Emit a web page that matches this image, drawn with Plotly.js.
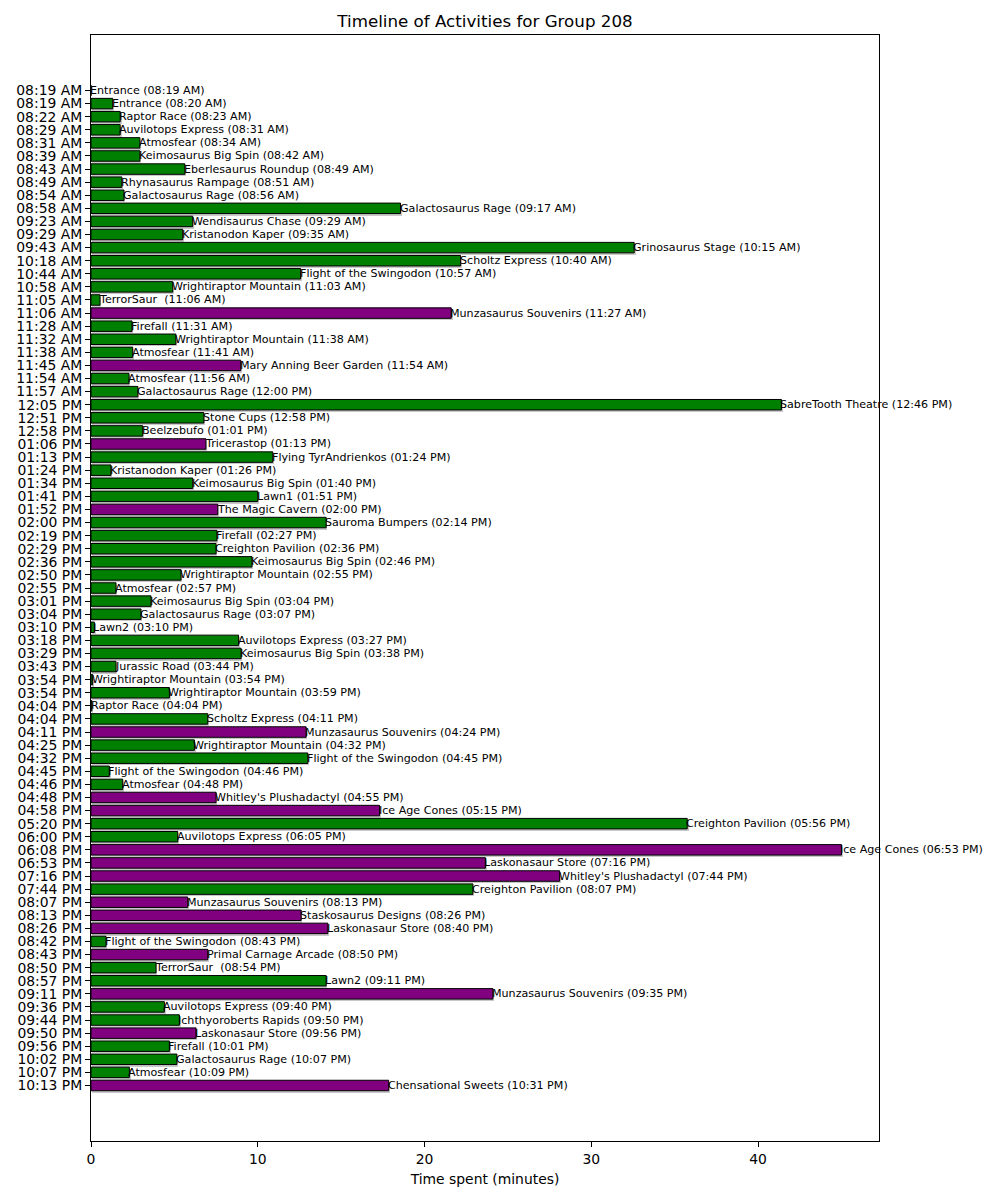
<!DOCTYPE html>
<html>
<head>
<meta charset="utf-8">
<script src="https://cdn.plot.ly/plotly-3.0.1.min.js"></script>
<style>html,body{margin:0;padding:0;background:#fff}#chart{width:1000px;height:1200px}</style>
</head>
<body>
<div id="chart"></div>
<script>
const startTimes = ["08:19 AM","08:19 AM","08:22 AM","08:29 AM","08:31 AM","08:39 AM","08:43 AM","08:49 AM","08:54 AM","08:58 AM",
"09:23 AM","09:29 AM","09:43 AM","10:18 AM","10:44 AM","10:58 AM","11:05 AM","11:06 AM","11:28 AM","11:32 AM",
"11:38 AM","11:45 AM","11:54 AM","11:57 AM","12:05 PM","12:51 PM","12:58 PM","01:06 PM","01:13 PM","01:24 PM",
"01:34 PM","01:41 PM","01:52 PM","02:00 PM","02:19 PM","02:29 PM","02:36 PM","02:50 PM","02:55 PM","03:01 PM",
"03:04 PM","03:10 PM","03:18 PM","03:29 PM","03:43 PM","03:54 PM","03:54 PM","04:04 PM","04:04 PM","04:11 PM",
"04:25 PM","04:32 PM","04:45 PM","04:46 PM","04:48 PM","04:58 PM","05:20 PM","06:00 PM","06:08 PM","06:53 PM",
"07:16 PM","07:44 PM","08:07 PM","08:13 PM","08:26 PM","08:42 PM","08:43 PM","08:50 PM","08:57 PM","09:11 PM",
"09:36 PM","09:44 PM","09:50 PM","09:56 PM","10:02 PM","10:07 PM","10:13 PM"];

const activities = ["Entrance","Entrance","Raptor Race","Auvilotops Express","Atmosfear","Keimosaurus Big Spin","Eberlesaurus Roundup","Rhynasaurus Rampage","Galactosaurus Rage","Galactosaurus Rage",
"Wendisaurus Chase","Kristanodon Kaper","Grinosaurus Stage","Scholtz Express","Flight of the Swingodon","Wrightiraptor Mountain","TerrorSaur ","Munzasaurus Souvenirs","Firefall","Wrightiraptor Mountain",
"Atmosfear","Mary Anning Beer Garden","Atmosfear","Galactosaurus Rage","SabreTooth Theatre","Stone Cups","Beelzebufo","Tricerastop","Flying TyrAndrienkos","Kristanodon Kaper",
"Keimosaurus Big Spin","Lawn1","The Magic Cavern","Sauroma Bumpers","Firefall","Creighton Pavilion","Keimosaurus Big Spin","Wrightiraptor Mountain","Atmosfear","Keimosaurus Big Spin",
"Galactosaurus Rage","Lawn2","Auvilotops Express","Keimosaurus Big Spin","Jurassic Road","Wrightiraptor Mountain","Wrightiraptor Mountain","Raptor Race","Scholtz Express","Munzasaurus Souvenirs",
"Wrightiraptor Mountain","Flight of the Swingodon","Flight of the Swingodon","Atmosfear","Whitley's Plushadactyl","Ice Age Cones","Creighton Pavilion","Auvilotops Express","Ice Age Cones","Laskonasaur Store",
"Whitley's Plushadactyl","Creighton Pavilion","Munzasaurus Souvenirs","Staskosaurus Designs","Laskonasaur Store","Flight of the Swingodon","Primal Carnage Arcade","TerrorSaur ","Lawn2","Munzasaurus Souvenirs",
"Auvilotops Express","Ichthyoroberts Rapids","Laskonasaur Store","Firefall","Galactosaurus Rage","Atmosfear","Chensational Sweets"];

const endTimes = ["08:19 AM","08:20 AM","08:23 AM","08:31 AM","08:34 AM","08:42 AM","08:49 AM","08:51 AM","08:56 AM","09:17 AM",
"09:29 AM","09:35 AM","10:15 AM","10:40 AM","10:57 AM","11:03 AM","11:06 AM","11:27 AM","11:31 AM","11:38 AM",
"11:41 AM","11:54 AM","11:56 AM","12:00 PM","12:46 PM","12:58 PM","01:01 PM","01:13 PM","01:24 PM","01:26 PM",
"01:40 PM","01:51 PM","02:00 PM","02:14 PM","02:27 PM","02:36 PM","02:46 PM","02:55 PM","02:57 PM","03:04 PM",
"03:07 PM","03:10 PM","03:27 PM","03:38 PM","03:44 PM","03:54 PM","03:59 PM","04:04 PM","04:11 PM","04:24 PM",
"04:32 PM","04:45 PM","04:46 PM","04:48 PM","04:55 PM","05:15 PM","05:56 PM","06:05 PM","06:53 PM","07:16 PM",
"07:44 PM","08:07 PM","08:13 PM","08:26 PM","08:40 PM","08:43 PM","08:50 PM","08:54 PM","09:11 PM","09:35 PM",
"09:40 PM","09:50 PM","09:56 PM","10:01 PM","10:07 PM","10:09 PM","10:31 PM"];

const minutesSpent = [0,1.3,1.75,1.75,2.93,2.93,5.63,1.85,1.98,18.56,
6.1,5.5,32.57,22.16,12.57,4.9,0.54,21.6,2.46,5.09,
2.5,8.98,2.28,2.81,41.4,6.77,3.1,6.89,10.9,1.2,
6.1,10.0,7.6,14.1,7.55,7.5,9.65,5.4,1.5,3.6,
3.0,0.2,8.85,9.0,1.5,0.1,4.7,0.05,7.0,12.9,
6.2,13.0,1.1,1.9,7.5,17.3,35.75,5.2,45.0,23.65,
28.1,22.9,5.8,12.6,14.2,0.9,7.0,3.9,14.1,24.1,
4.4,5.3,6.3,4.7,5.15,2.3,17.85];

const activityType = ["ride","ride","ride","ride","ride","ride","ride","ride","ride","ride",
"ride","ride","ride","ride","ride","ride","ride","shop","ride","ride",
"ride","shop","ride","ride","ride","ride","ride","shop","ride","ride",
"ride","ride","shop","ride","ride","ride","ride","ride","ride","ride",
"ride","ride","ride","ride","ride","ride","ride","ride","ride","shop",
"ride","ride","ride","ride","shop","shop","ride","ride","shop","shop",
"shop","ride","shop","shop","shop","ride","shop","ride","ride","shop",
"ride","ride","shop","ride","ride","ride","shop"];

const typeColors = {ride: "green", shop: "purple"};

const idx = startTimes.map((_, i) => i);
const colors = activityType.map(t => typeColors[t]);
const labels = activities.map((a, i) => a + " (" + endTimes[i] + ")");

const shadow = {
  type: "bar", orientation: "h",
  x: minutesSpent, y: idx, base: 0.08,
  width: 0.8, offset: -0.25,
  marker: {color: "#c8c8c8", line: {width: 0}},
  hoverinfo: "skip", showlegend: false
};
const bars = {
  type: "bar", orientation: "h",
  x: minutesSpent, y: idx,
  width: 0.8, offset: -0.4,
  marker: {color: colors, line: {color: "black", width: 1}},
  showlegend: false
};

const annotations = labels.map((t, i) => ({
  x: minutesSpent[i], y: idx[i], xref: "x", yref: "y",
  text: t, showarrow: false, xanchor: "left", yanchor: "middle",
  xshift: -2, borderpad: 0, font: {family: "DejaVu Sans", size: 11.1, color: "black"}
}));

const layout = {
  width: 1000, height: 1200,
  margin: {l: 91, r: 121, t: 35, b: 59},
  paper_bgcolor: "white", plot_bgcolor: "white",
  font: {family: "DejaVu Sans", color: "black"},
  title: {text: "Timeline of Activities for Group 208", font: {size: 16.7, family: "DejaVu Sans"},
          x: 0.485, xref: "container", y: 0.9825, yref: "container", yanchor: "middle"},
  barmode: "overlay",
  bargap: 0,
  xaxis: {
    range: [0, 47.25], tickvals: [0,10,20,30,40], ticks: "outside", ticklen: 5, tickcolor: "black",
    showline: true, mirror: true, linecolor: "black", linewidth: 1, showgrid: false, zeroline: false,
    tickfont: {size: 13.9}, title: {text: "Time spent (minutes)", font: {size: 13.9}, standoff: 8}
  },
  yaxis: {
    range: [80.24, -4.24], tickvals: idx, ticktext: startTimes, ticks: "outside", ticklen: 5, tickcolor: "black",
    showline: true, mirror: true, linecolor: "black", linewidth: 1, showgrid: false, zeroline: false,
    tickfont: {size: 13.9}
  },
  annotations: annotations
};

Plotly.newPlot("chart", [shadow, bars], layout, {displayModeBar: false, staticPlot: true});
</script>
</body>
</html>
